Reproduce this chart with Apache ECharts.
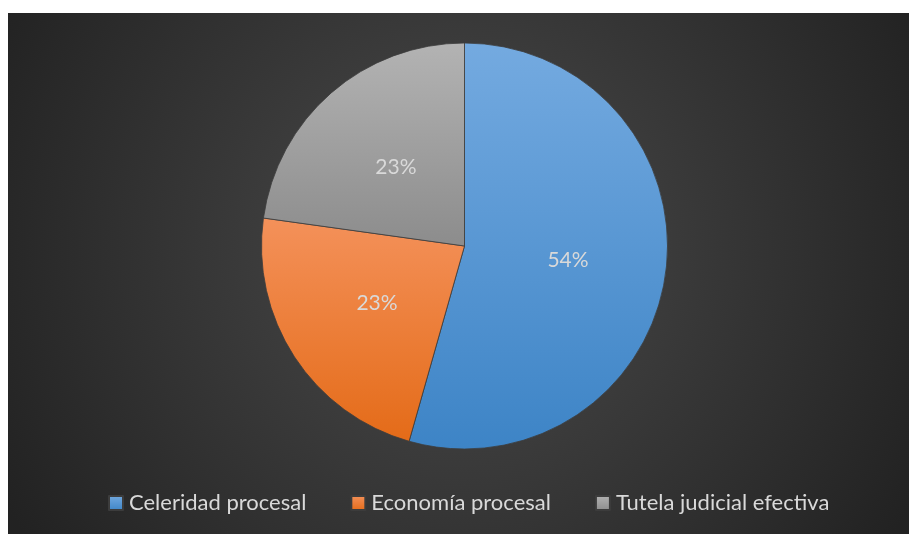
<!DOCTYPE html>
<html>
<head>
<meta charset="utf-8">
<script src="https://cdn.jsdelivr.net/npm/echarts@6/dist/echarts.min.js"></script>
<style>
  html, body { margin: 0; padding: 0; background: #ffffff; }
  #chart { position: absolute; left: 8px; top: 13px; width: 901px; height: 521px; }
</style>
</head>
<body>
<div id="chart"></div>
<script>
// Share of responses per principle (percent)
const categories = ['Celeridad procesal', 'Economía procesal', 'Tutela judicial efectiva'];
const shares = [54.4, 22.8, 22.8];

// Top / bottom colours of each slice's vertical gradient
const topColors = ['#74aae0', '#f4915a', '#b3b3b3'];
const bottomColors = ['#3d84c6', '#e46b18', '#8c8c8c'];

const FONT = 'Lato, "Open Sans", sans-serif';

function vGrad(top, bottom) {
  return new echarts.graphic.LinearGradient(0, 0, 0, 1, [
    { offset: 0, color: top },
    { offset: 1, color: bottom }
  ]);
}

const chart = echarts.init(document.getElementById('chart'), null, { renderer: 'canvas' });

chart.setOption({
  animation: false,
  backgroundColor: {
    type: 'radial', x: 0.5, y: 0.45, r: 1.0,
    colorStops: [
      { offset: 0, color: '#4b4b4b' },
      { offset: 1, color: '#222222' }
    ]
  },
  legend: {
    bottom: 15,
    left: 95,
    icon: 'rect',
    itemWidth: 14,
    itemHeight: 14,
    itemGap: 44,
    textStyle: { color: '#d9d9d9', fontSize: 22, fontFamily: FONT, padding: [0, 0, 0, 1] },
    data: categories
  },
  series: [{
    type: 'pie',
    center: [456.5, 233],
    radius: 203,
    startAngle: 90,
    clockwise: true,
    avoidLabelOverlap: false,
    itemStyle: { borderColor: '#3c3c3c', borderWidth: 0.8 },
    label: {
      show: true,
      position: 'inside',
      color: '#d9d9d9',
      fontSize: 21,
      fontFamily: FONT,
      formatter: p => Math.round(p.percent) + '%'
    },
    labelLine: { show: false },
    emphasis: { disabled: true },
    data: categories.map((name, i) => ({
      name: name,
      value: shares[i],
      itemStyle: { color: vGrad(topColors[i], bottomColors[i]) }
    }))
  }]
});
</script>
</body>
</html>
